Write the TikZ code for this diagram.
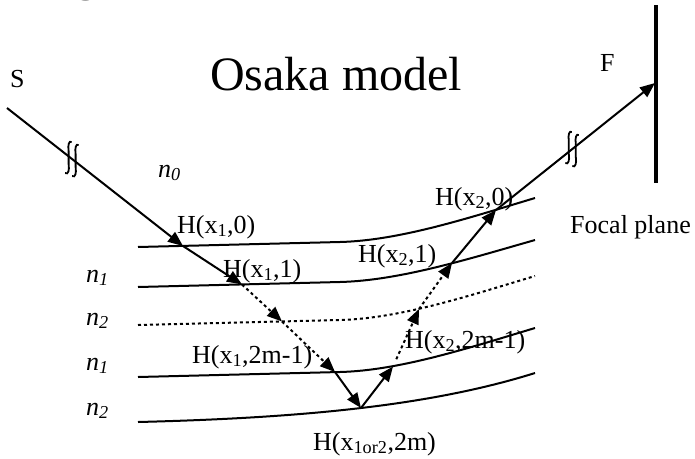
\documentclass[tikz,border=0pt]{standalone}
\usepackage{fontspec}
\setmainfont{Liberation Serif}
\usetikzlibrary{arrows.meta}
\tikzset{
  layer/.style={line width=2pt, line join=round},
  layerdot/.style={layer, dash pattern=on 3pt off 3pt},
  ray/.style={line width=2pt, -{Triangle[length=15pt,width=12pt]}},
  raydot/.style={ray, dash pattern=on 3pt off 3pt},
  plane/.style={line width=3.5pt},
  lbl/.style={anchor=base west, inner sep=0pt, font=\fontsize{26}{30}\selectfont},
  idx/.style={lbl, font=\fontsize{26}{30}\selectfont\itshape},
  title/.style={anchor=base west, inner sep=0pt, font=\fontsize{48}{52}\selectfont},
  pics/brk/.style={code={
    \draw[line width=1.8pt] (-0.5,-17) .. controls (-3,-19) and (-4.5,-14) .. (-3.5,-8) -- (-3.5,5) .. controls (-2.5,11) and (-4,16) .. (-7,14);
    \draw[line width=1.8pt] (6.5,-14) .. controls (4,-16) and (2.5,-11) .. (3.5,-5) -- (3.5,8) .. controls (4.5,14) and (3,19) .. (0,17);
  }}
}
\begin{document}
\begin{tikzpicture}[x=1pt, y=-1pt]
  \useasboundingbox (0,0) rectangle (695,458);

  % layer boundaries
  \draw[layer] (138,247) -- (340,242) .. controls (400,240.5) and (470,217.5) .. (535,198);
  \draw[layer] (138,287) -- (340,282) .. controls (400,280.5) and (470,258.5) .. (535,240);
  \draw[layerdot] (138,325) -- (340,320) .. controls (400,318.5) and (470,295.5) .. (535,276);
  \draw[layer] (138,377) -- (340,372) .. controls (400,370.5) and (470,347.5) .. (535,328);
  \draw[layer] (138,422) .. controls (300,418) and (430,406) .. (535,373);

  % focal plane
  \coordinate (ftop) at (656,5);
  \coordinate (fbot) at (656,183);
  \draw[plane] (ftop) -- (fbot);

  % ray points
  \coordinate (s0) at (7,108);
  \coordinate (h10) at (183,246);
  \coordinate (h11) at (242,284.5);
  \coordinate (d1) at (282,321.5);
  \coordinate (h1m) at (335,372);
  \coordinate (bot) at (361,408);
  \coordinate (h2m) at (393,366.5);
  \coordinate (d2) at (419,309);
  \coordinate (h21) at (452,263);
  \coordinate (h20) at (496,210);
  \coordinate (fp) at (655,83);

  \draw[ray] (s0) -- (h10) coordinate[pos=0.37] (b1);
  \draw[ray] (h10) -- (h11);
  \draw[raydot] (h11) -- (d1);
  \draw[raydot] (d1) -- (h1m);
  \draw[ray] (h1m) -- (bot);
  \draw[ray] (bot) -- (h2m);
  \draw[raydot, shorten <=8pt] (h2m) -- (d2);
  \draw[raydot] (d2) -- (h21);
  \draw[ray] (h21) -- (h20);
  \draw[ray] (h20) -- (fp) coordinate[pos=0.48] (b2);
  \pic at (b1) {brk};
  \pic at (b2) {brk};

  % labels
  \node[title, anchor=base] (frag) at (86,-10) {g};
  \node[title] (osaka) at (210,90) {Osaka model};
  \node[lbl] (src) at (10,87) {S};
  \node[lbl] (foc) at (600,71) {F};
  \node[lbl] (fplane) at (570,233) {Focal plane};
  \node[idx] (n0) at (158,177) {n\textsubscript{0}};
  \node[idx] (n1a) at (86,282) {n\textsubscript{1}};
  \node[idx] (n2a) at (86,325) {n\textsubscript{2}};
  \node[idx] (n1b) at (86,370) {n\textsubscript{1}};
  \node[idx] (n2b) at (86,415) {n\textsubscript{2}};
  \node[lbl] (lh10) at (177,233) {H(x\textsubscript{1},0)};
  \node[lbl] (lh11) at (223,277) {H(x\textsubscript{1},1)};
  \node[lbl] (lh20) at (435,205) {H(x\textsubscript{2},0)};
  \node[lbl] (lh21) at (358,262) {H(x\textsubscript{2},1)};
  \node[lbl] (lh1m) at (192,363) {H(x\textsubscript{1},2m-1)};
  \node[lbl] (lh2m) at (405,348) {H(x\textsubscript{2},2m-1)};
  \node[lbl] (lbot) at (313,450) {H(x\textsubscript{1or2},2m)};
\end{tikzpicture}
\end{document}
